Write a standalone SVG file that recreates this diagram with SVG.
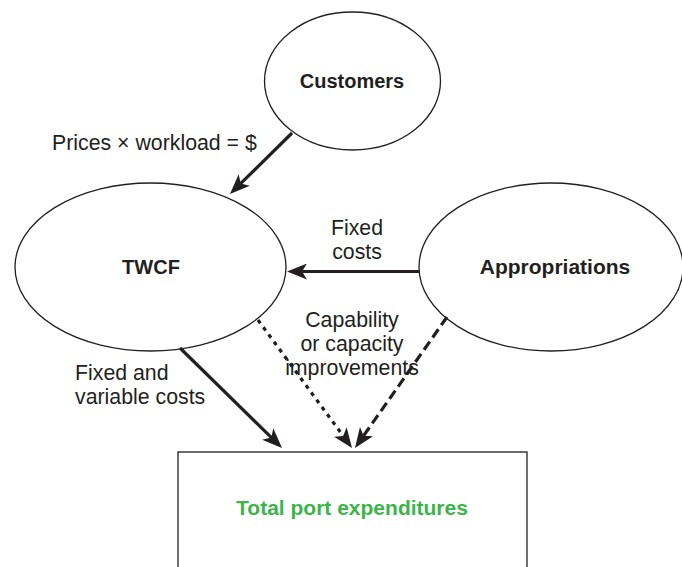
<svg xmlns="http://www.w3.org/2000/svg" width="682" height="567" viewBox="0 0 682 567">
<style>
.node{fill:#fff;stroke:#231f20;stroke-width:1.3}
.lbl{font-family:"Liberation Sans",Arial,sans-serif;font-size:21.3px;fill:#231f20}
.bold{font-family:"Liberation Sans",Arial,sans-serif;font-size:20px;font-weight:bold;fill:#231f20}
.green{font-family:"Liberation Sans",Arial,sans-serif;font-size:21px;font-weight:bold;fill:#3bb54a}
.conn{stroke:#231f20;stroke-width:3.2;fill:none}
</style>
<defs>
<marker id="ah" viewBox="0 0 20 16" refX="12" refY="8" markerWidth="20" markerHeight="16" markerUnits="userSpaceOnUse" orient="auto">
<path d="M20,8 L0,0 L5,8 L0,16 Z" fill="#231f20"/>
</marker>
</defs>
<rect width="682" height="567" fill="#fff"/>
<g id="customers">
<ellipse class="node" cx="352.5" cy="81" rx="88" ry="69"/>
<text class="bold" x="352" y="88" text-anchor="middle">Customers</text>
</g>
<g id="twcf">
<ellipse class="node" cx="150.5" cy="267" rx="135.5" ry="84"/>
<text class="bold" x="151" y="274" text-anchor="middle">TWCF</text>
</g>
<g id="appropriations">
<ellipse class="node" cx="551" cy="267" rx="132" ry="84"/>
<text class="bold" x="555" y="274" text-anchor="middle" style="font-size:21px">Appropriations</text>
</g>
<g id="total">
<rect class="node" x="178" y="452" width="349" height="130"/>
<text class="green" x="352" y="515" text-anchor="middle">Total port expenditures</text>
</g>
<g id="connectors">
<line class="conn" x1="292" y1="133" x2="235.7" y2="188.4" marker-end="url(#ah)"/>
<line class="conn" x1="419" y1="271.5" x2="295" y2="271.5" marker-end="url(#ah)"/>
<line class="conn" x1="180" y1="348" x2="276.3" y2="442.4" marker-end="url(#ah)"/>
<line class="conn" x1="258" y1="320" x2="347.3" y2="441.6" stroke-dasharray="4 5" marker-end="url(#ah)"/>
<line class="conn" x1="447" y1="317" x2="359.6" y2="441.4" stroke-dasharray="10 5" marker-end="url(#ah)"/>
</g>
<g id="labels">
<text class="lbl" x="52" y="150">Prices × workload = $</text>
<text class="lbl" x="357" y="235" text-anchor="middle">Fixed</text>
<text class="lbl" x="357" y="259" text-anchor="middle">costs</text>
<text class="lbl" x="352" y="327" text-anchor="middle">Capability</text>
<text class="lbl" x="352" y="351" text-anchor="middle">or capacity</text>
<text class="lbl" x="352" y="375" text-anchor="middle">improvements</text>
<text class="lbl" x="75" y="380">Fixed and</text>
<text class="lbl" x="75" y="404">variable costs</text>
</g>
</svg>
